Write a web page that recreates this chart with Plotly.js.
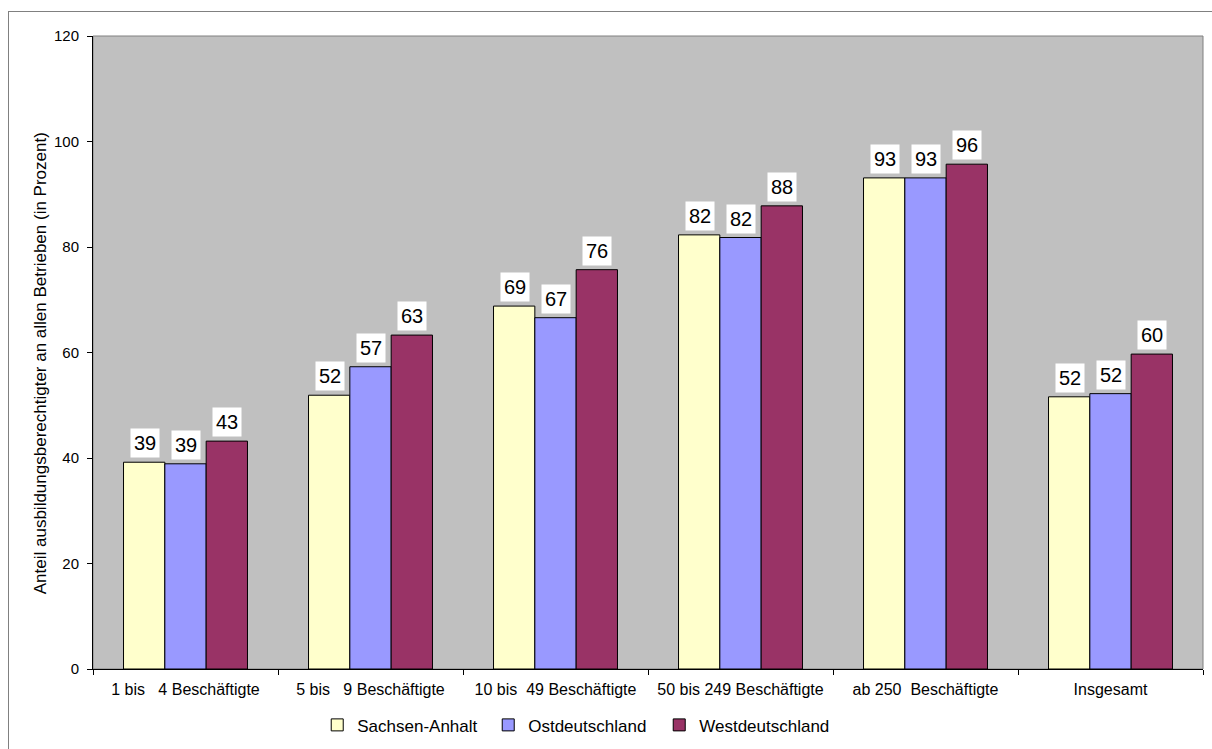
<!DOCTYPE html>
<html><head><meta charset="utf-8">
<script src="https://cdn.plot.ly/plotly-3.0.1.min.js"></script>
<style>
html,body{margin:0;padding:0;background:#fff;overflow:hidden;}
#frame{position:absolute;left:8px;top:11px;width:1220px;height:760px;border:1px solid #808080;pointer-events:none;}
#chart{width:1212px;height:749px;}
</style></head>
<body>
<div id="chart"></div>
<div id="frame"></div>
<script>
var categories = ["1 bis \u00a0\u00a04 Beschäftigte", "5 bis \u00a0\u00a09 Beschäftigte", "10 bis \u00a049 Beschäftigte", "50 bis 249 Beschäftigte", "ab 250 \u00a0Beschäftigte", "Insgesamt"];
var seriesNames = ["Sachsen-Anhalt", "Ostdeutschland", "Westdeutschland"];
var sachsenAnhalt = [39.2, 51.9, 68.8, 82.3, 93.1, 51.6];
var ostdeutschland = [38.9, 57.3, 66.6, 81.8, 93.1, 52.2];
var westdeutschland = [43.2, 63.3, 75.7, 87.8, 95.7, 59.7];
var yTicks = [0, 20, 40, 60, 80, 100, 120];
var colors = ["#FFFFCC", "#9999FF", "#993366"];

var allSeries = [sachsenAnhalt, ostdeutschland, westdeutschland];
var font = "Arial, 'Liberation Sans', sans-serif";

var traces = allSeries.map(function(vals, i){
  return {
    type: "bar", name: seriesNames[i], x: categories, y: vals,
    marker: {color: colors[i], line: {color: "#000", width: 1}},
    hoverinfo: "none"
  };
});

var annotations = [];
allSeries.forEach(function(vals, i){
  vals.forEach(function(v, j){
    annotations.push({
      x: categories[j], y: v, xref: "x", yref: "y",
      text: String(Math.round(v)), showarrow: false,
      xshift: (i - 1) * 41, yanchor: "bottom", yshift: 4,
      bgcolor: "#FFFFFF", borderpad: 3,
      font: {family: font, size: 20, color: "#000"}
    });
  });
});

annotations.push({
  xref: "paper", yref: "paper", x: 0, y: 0.483, xshift: -53, xanchor: "center", yanchor: "middle",
  text: "Anteil ausbildungsberechtigter an allen Betrieben (in Prozent)", textangle: -90,
  showarrow: false, font: {family: font, size: 17, color: "#000"}
});

var layout = {
  width: 1212, height: 749,
  margin: {l: 93, r: 9, t: 36, b: 80, autoexpand: false},
  paper_bgcolor: "rgba(0,0,0,0)",
  plot_bgcolor: "#C0C0C0",
  barmode: "group", bargap: 0.33, bargroupgap: 0,
  font: {family: font, color: "#000"},
  xaxis: {
    type: "category", tickson: "boundaries", ticks: "outside", ticklen: 5, tickcolor: "#000",
    showline: true, linecolor: "#000", linewidth: 1, showgrid: false, automargin: false,
    ticklabelstandoff: 6,
    tickfont: {family: font, size: 16, color: "#000"}, fixedrange: true
  },
  yaxis: {
    range: [0, 120], tickvals: yTicks, ticktext: yTicks.map(String),
    ticks: "outside", ticklen: 5, tickcolor: "#000", automargin: false,
    showline: true, linecolor: "#000", linewidth: 1, showgrid: false, zeroline: false,
    ticklabelstandoff: 5,
    tickfont: {family: font, size: 15, color: "#000"}, fixedrange: true
  },
  shapes: [{
    type: "rect", xref: "paper", yref: "paper", x0: 0, x1: 1, y0: 0, y1: 1,
    line: {color: "#808080", width: 1}, layer: "below"
  }],
  legend: {
    orientation: "h", x: 0.202, xanchor: "left", y: -0.089, yanchor: "middle",
    font: {family: font, size: 17, color: "#000"},
    entrywidth: 126, entrywidthmode: "pixels",
    itemwidth: 30, bgcolor: "rgba(0,0,0,0)"
  },
  annotations: annotations,
  showlegend: true
};

Plotly.newPlot("chart", traces, layout, {displayModeBar: false, staticPlot: true});
</script>
</body></html>
